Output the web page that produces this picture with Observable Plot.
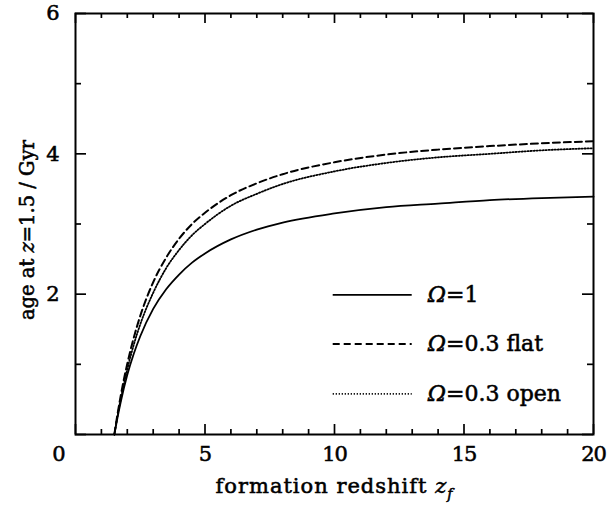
<!DOCTYPE html>
<html>
<head>
<meta charset="utf-8">
<script src="https://cdn.jsdelivr.net/npm/d3@7"></script>
<script src="https://cdn.jsdelivr.net/npm/@observablehq/plot@0.6"></script>
<style>
  html, body { margin: 0; padding: 0; background: #fff; }
  svg text { font-family: "DejaVu Serif", serif; stroke: black; stroke-width: 0.55px; paint-order: stroke; }
  svg g.xtitle text { letter-spacing: 1px; }
  svg g.ytitle text { text-anchor: middle; }
  svg g.ticklabel text { letter-spacing: -1px; }
</style>
</head>
<body>
<div id="chart"></div>
<script>
// ---- data ----
const formationRedshift = [1.5, 1.6, 1.75, 2, 2.25, 2.5, 3, 3.5, 4, 4.5, 5, 6, 7, 8, 10, 12, 14, 16, 18, 20];
const ageOmega1   = [0, 0.20, 0.47, 0.85, 1.15, 1.40, 1.79, 2.07, 2.28, 2.45, 2.58, 2.78, 2.92, 3.02, 3.15, 3.24, 3.29, 3.34, 3.37, 3.39];
const ageFlat03   = [0, 0.24, 0.56, 1.01, 1.38, 1.69, 2.17, 2.52, 2.79, 3.00, 3.16, 3.41, 3.58, 3.71, 3.88, 3.99, 4.06, 4.11, 4.15, 4.18];
const ageOpen03   = [0, 0.22, 0.51, 0.93, 1.28, 1.57, 2.02, 2.37, 2.63, 2.84, 3.00, 3.26, 3.43, 3.57, 3.75, 3.87, 3.95, 4.00, 4.05, 4.08];
const seriesNames = ["Ω=1", "Ω=0.3 flat", "Ω=0.3 open"];
const xMajorTicks = [0, 5, 10, 15, 20];
const xMinorTicks = [1, 2, 3, 4, 6, 7, 8, 9, 11, 12, 13, 14, 16, 17, 18, 19];
const yMajorTicks = [0, 2, 4, 6];
const yMinorTicks = [1, 3, 5];
const xTickLabels = [0, 5, 10, 15, 20];
const yTickLabels = [2, 4, 6];
const xTitle = "formation redshift z_f";
const yTitle = "age at z=1.5 / Gyr";

// ---- styles / layout ----
const seriesValues = [ageOmega1, ageFlat03, ageOpen03];
const seriesStyles = [
  {dash: null, width: 1.8},
  {dash: "7,4", width: 2},
  {dash: "1.2,1.8", width: 1.8}
];
const legendLayout = {x1: 9.95, x2: 13.0, textX: 13.6, ys: [1.99, 1.29, 0.58]};

const W = 607, H = 515;
const mL = 75, mR = 14, mT = 13, mB = 81;
const frameH = H - mT - mB;
const frameW = W - mL - mR;

const marks = [];
// curves
seriesValues.forEach((vals, i) => {
  const rows = formationRedshift.map((x, j) => ({x, y: vals[j]}));
  marks.push(Plot.line(rows, {x: "x", y: "y", curve: "monotone-x", stroke: "black",
    strokeWidth: seriesStyles[i].width, strokeDasharray: seriesStyles[i].dash ?? undefined}));
});
// legend
seriesNames.forEach((name, i) => {
  const y = legendLayout.ys[i];
  marks.push(Plot.ruleY([y], {x1: legendLayout.x1, x2: legendLayout.x2, stroke: "black",
    strokeWidth: seriesStyles[i].width, strokeDasharray: seriesStyles[i].dash ?? undefined}));
  marks.push(Plot.text([name], {x: legendLayout.textX, y: y, text: d => d, textAnchor: "start", lineAnchor: "middle",
    fontSize: 22, fill: "black", className: "legendlabel"}));
});
// ticks, inward on all four sides
const tk = 1.7;
marks.push(Plot.ruleX(xMajorTicks, {x: d => d, insetTop: frameH - 10, strokeWidth: tk}));
marks.push(Plot.ruleX(xMinorTicks, {x: d => d, insetTop: frameH - 5, strokeWidth: tk}));
marks.push(Plot.ruleX(xMajorTicks, {x: d => d, insetBottom: frameH - 10, strokeWidth: tk}));
marks.push(Plot.ruleX(xMinorTicks, {x: d => d, insetBottom: frameH - 5, strokeWidth: tk}));
marks.push(Plot.ruleY(yMajorTicks, {y: d => d, insetRight: frameW - 11, strokeWidth: tk}));
marks.push(Plot.ruleY(yMinorTicks, {y: d => d, insetRight: frameW - 6, strokeWidth: tk}));
marks.push(Plot.ruleY(yMajorTicks, {y: d => d, insetLeft: frameW - 11, strokeWidth: tk}));
marks.push(Plot.ruleY(yMinorTicks, {y: d => d, insetLeft: frameW - 6, strokeWidth: tk}));
marks.push(Plot.frame({stroke: "black", strokeWidth: 2}));
// tick labels
marks.push(Plot.text(xTickLabels.filter(d => d !== 0), {x: d => d, text: d => String(d), frameAnchor: "bottom", lineAnchor: "middle", textAnchor: "middle", dy: 20, fontSize: 21, fill: "black", className: "ticklabel"}));
marks.push(Plot.text(xTickLabels.filter(d => d === 0), {x: d => d, text: d => String(d), frameAnchor: "bottom", lineAnchor: "middle", textAnchor: "middle", dy: 20, dx: -17, fontSize: 21, fill: "black", className: "ticklabel"}));
marks.push(Plot.text(yTickLabels, {y: d => d, text: d => String(d), frameAnchor: "left", lineAnchor: "middle", dx: -17, textAnchor: "end", fontSize: 21, fill: "black", className: "ticklabel"}));
// axis titles
marks.push(Plot.text([xTitle], {text: d => d, frameAnchor: "bottom", lineAnchor: "middle", textAnchor: "middle", dy: 52, fontSize: 21, fill: "black", className: "xtitle"}));
marks.push(Plot.text([yTitle], {text: d => d, frameAnchor: "left", lineAnchor: "middle", textAnchor: "middle", dx: -48, dy: 6, rotate: -90, fontSize: 19.5, fill: "black", className: "ytitle"}));

const svg = Plot.plot({
  width: W, height: H,
  marginLeft: mL, marginRight: mR, marginTop: mT, marginBottom: mB,
  x: {domain: [0, 20], axis: null},
  y: {domain: [0, 6], axis: null},
  style: {background: "white", fontFamily: "DejaVu Serif", color: "black", overflow: "visible"},
  marks
});

// rich text: italic symbols and subscript
const s = d3.select(svg);
s.selectAll("g.legendlabel text").each(function() {
  const t = d3.select(this); const str = t.text();
  t.text(null);
  t.append("tspan").attr("font-style", "italic").text(str[0]);
  t.append("tspan").text(str.slice(1));
});
s.selectAll("g.ytitle text").attr("text-anchor", "middle").each(function() {
  const t = d3.select(this);
  t.text(null);
  t.append("tspan").text("age at ");
  t.append("tspan").attr("font-style", "italic").text("z");
  t.append("tspan").text("=1.5 / Gyr");
});
s.selectAll("g.xtitle text").each(function() {
  const t = d3.select(this);
  t.text(null);
  t.append("tspan").text("formation redshift ");
  t.append("tspan").attr("font-style", "italic").text("z");
  t.append("tspan").attr("font-style", "italic").attr("font-size", 14).attr("dy", 6).text("f");
});
document.getElementById("chart").appendChild(svg);
</script>
</body>
</html>
